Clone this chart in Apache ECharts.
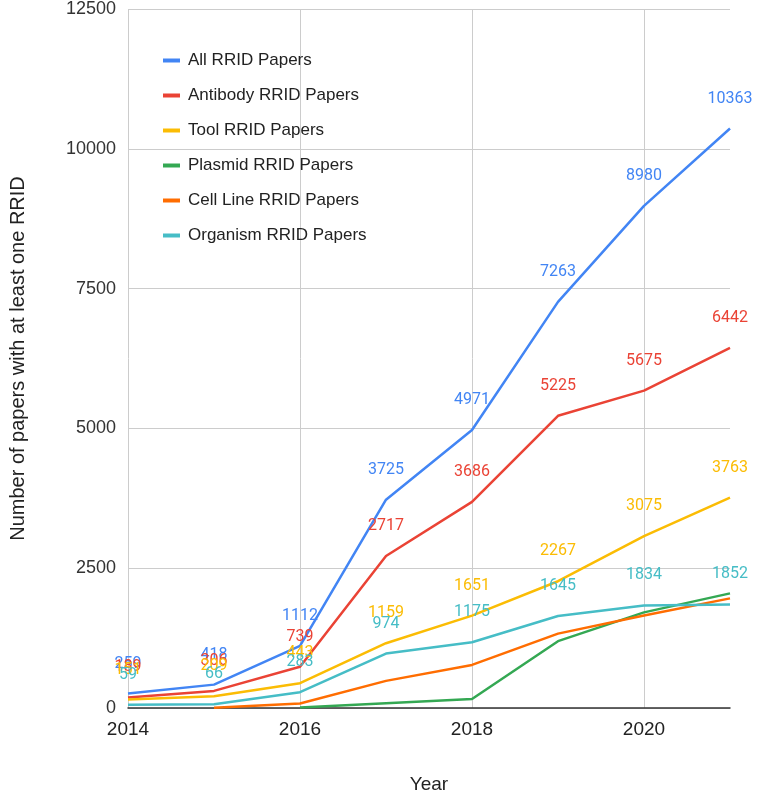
<!DOCTYPE html>
<html>
<head>
<meta charset="utf-8">
<script src="https://cdn.jsdelivr.net/npm/echarts@6/dist/echarts.min.js"></script>
<style>
html,body{margin:0;padding:0;background:#fff;}
#chart{width:757px;height:799px;}
</style>
</head>
<body>
<div id="chart"></div>
<script>
const years = [2014, 2015, 2016, 2017, 2018, 2019, 2020, 2021];
const allPapers = [259, 418, 1112, 3725, 4971, 7263, 8980, 10363];
const antibodyPapers = [189, 306, 739, 2717, 3686, 5225, 5675, 6442];
const toolPapers = [151, 209, 443, 1159, 1651, 2267, 3075, 3763];
const plasmidPapers = [null, null, 10, 85, 160, 1195, 1710, 2050];
const cellLinePapers = [null, 5, 80, 485, 770, 1330, 1655, 1960];
const organismPapers = [59, 66, 283, 974, 1175, 1645, 1834, 1852];
const seriesNames = ['All RRID Papers', 'Antibody RRID Papers', 'Tool RRID Papers',
  'Plasmid RRID Papers', 'Cell Line RRID Papers', 'Organism RRID Papers'];
const yTicks = [0, 2500, 5000, 7500, 10000, 12500];
const xTicks = [2014, 2016, 2018, 2020];

const colors = ['#4285F4', '#EA4335', '#FBBC04', '#34A853', '#FF6D01', '#46BDC6'];
const seriesValues = [allPapers, antibodyPapers, toolPapers, plasmidPapers, cellLinePapers, organismPapers];
const showLabels = [true, true, true, false, false, true];

const chart = echarts.init(document.getElementById('chart'), null, {renderer: 'canvas'});

const series = seriesNames.map((name, i) => ({
  name: name,
  type: 'line',
  data: years.map((y, j) => seriesValues[i][j] == null ? null : [y, seriesValues[i][j]]).filter(d => d),
  showSymbol: true,
  symbol: 'circle',
  symbolSize: 0,
  lineStyle: {width: 2.5, color: colors[i]},
  itemStyle: {color: colors[i], opacity: 0},
  label: {
    show: showLabels[i],
    position: 'top',
    distance: 22,
    color: colors[i],
    fontFamily: 'Roboto',
    fontSize: 16,
    opacity: 1,
    formatter: p => p.value[1]
  },
  labelLayout: {hideOverlap: false},
  emphasis: {disabled: true},
  animation: false
}));

chart.setOption({
  animation: false,
  color: colors,
  grid: {left: 120, right: 27, top: 8, bottom: 85, containLabel: false},
  legend: {
    show: true,
    orient: 'vertical',
    left: 158,
    top: 47,
    icon: 'rect',
    itemWidth: 17,
    itemHeight: 4,
    itemGap: 18,
    itemStyle: {opacity: 1},
    textStyle: {fontFamily: 'Liberation Sans, Arial', fontSize: 17, color: '#222', padding: [0, 0, 0, 3]},
    data: seriesNames
  },
  xAxis: {
    type: 'value',
    min: 2014,
    max: 2021,
    interval: 2,
    name: 'Year',
    nameLocation: 'middle',
    nameGap: 67,
    nameTextStyle: {fontFamily: 'Liberation Sans, Arial', fontSize: 19, color: '#222'},
    axisLine: {show: true, onZero: false, lineStyle: {color: '#333', width: 1.5}},
    axisTick: {show: false},
    splitLine: {show: true, showMaxLine: false, lineStyle: {color: '#cccccc', width: 1}},
    axisLabel: {
      fontFamily: 'Liberation Sans, Arial', fontSize: 19, color: '#222', margin: 12,
      formatter: v => xTicks.includes(v) ? String(v) : ''
    }
  },
  yAxis: {
    type: 'value',
    min: 0,
    max: 12500,
    interval: 2500,
    name: 'Number of papers with at least one RRID',
    nameLocation: 'middle',
    nameGap: 100,
    nameTextStyle: {fontFamily: 'Liberation Sans, Arial', fontSize: 20, color: '#222'},
    axisLine: {show: false},
    axisTick: {show: false},
    splitLine: {show: true, lineStyle: {color: '#cccccc', width: 1}},
    axisLabel: {
      fontFamily: 'Liberation Sans, Arial', fontSize: 18, color: '#333', margin: 12,
      formatter: v => yTicks.includes(v) ? String(v) : ''
    }
  },
  series: series
});
</script>
</body>
</html>
